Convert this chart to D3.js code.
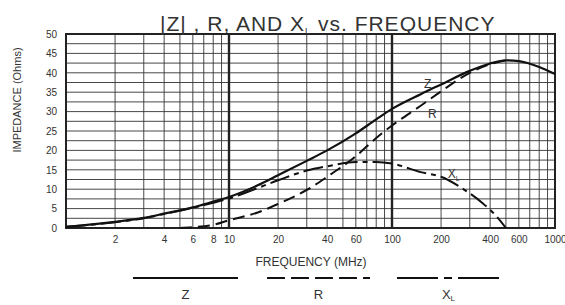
<!DOCTYPE html>
<html>
<head>
<meta charset="utf-8">
<script src="https://cdn.jsdelivr.net/npm/d3@7"></script>
<style>
  html, body { margin: 0; padding: 0; background: #fff; }
  svg { display: block; font-family: "Liberation Sans", Arial, sans-serif; }
  .grid line { stroke: #333; stroke-width: 0.9; }
</style>
</head>
<body>
<svg id="chart" width="565" height="305"></svg>
<script>
// ─── Data ───────────────────────────────────────────────────────────
const FREQ_Z   = [1, 1.5, 2, 3, 4, 6, 8, 10, 15, 20, 30, 40, 60, 80, 100, 150, 200, 300, 400, 500, 600, 800, 1000];
const Z_VALUES = [0.3, 1.0, 1.6, 2.6, 3.7, 5.3, 6.8, 8.0, 11.0, 13.6, 17.3, 20.0, 24.4, 28.0, 30.7, 34.5, 37.0, 40.5, 42.4, 43.2, 43.0, 41.5, 39.7];

const FREQ_R   = [5, 6, 8, 10, 15, 20, 30, 40, 60, 80, 100, 150, 200, 300, 400, 500];
const R_VALUES = [0, 0.2, 0.8, 2.0, 4.0, 6.2, 9.8, 13.2, 18.5, 23.2, 26.4, 31.5, 35.2, 40.0, 42.2, 43.2];

const FREQ_XL   = [1, 2, 3, 4, 6, 8, 10, 15, 20, 30, 40, 60, 80, 100, 150, 200, 270, 360, 440, 500];
const XL_VALUES = [0.3, 1.5, 2.5, 3.6, 5.2, 6.5, 7.6, 10.3, 12.3, 14.8, 15.9, 17.0, 17.0, 16.6, 14.4, 13.2, 10.2, 6.4, 2.9, 0];

const X_TICKS = [2, 4, 6, 8, 10, 20, 40, 60, 100, 200, 400, 600, 1000];
const Y_TICKS = [0, 5, 10, 15, 20, 25, 30, 35, 40, 45, 50];

// ─── Layout ─────────────────────────────────────────────────────────
const svg = d3.select('#chart');
const margin = { top: 34, left: 66, right: 10, bottom: 77 };
const W = 565, H = 305;
const iw = W - margin.left - margin.right;
const ih = H - margin.top - margin.bottom;
const g = svg.append('g').attr('transform', `translate(${margin.left},${margin.top})`);

const x = d3.scaleLog().domain([1, 1000]).range([0, iw]);
const y = d3.scaleLinear().domain([0, 50]).range([ih, 0]);

// ── Grid ────────────────────────────────────────────
const minor = [];
for (const dec of [1, 10, 100]) for (let k = 2; k <= 9; k++) minor.push(dec * k);
const grid = g.append('g').attr('class', 'grid');
grid.selectAll('line.v').data(minor).join('line')
  .attr('class', 'v')
  .attr('x1', d => x(d)).attr('x2', d => x(d))
  .attr('y1', 0).attr('y2', ih);
grid.selectAll('line.h').data(d3.range(2.5, 50, 2.5)).join('line')
  .attr('class', 'h')
  .attr('x1', 0).attr('x2', iw)
  .attr('y1', d => y(d)).attr('y2', d => y(d));
// bold decade lines
g.selectAll('line.decade').data([10, 100]).join('line')
  .attr('class', 'decade')
  .attr('x1', d => x(d)).attr('x2', d => x(d))
  .attr('y1', 0).attr('y2', ih)
  .attr('stroke', '#222').attr('stroke-width', 2.4);
g.append('rect').attr('width', iw).attr('height', ih)
  .attr('fill', 'none').attr('stroke', '#222').attr('stroke-width', 2);

// ── Axes ────────────────────────────────────────────
const xAxis = g.append('g').attr('transform', `translate(0,${ih})`)
  .call(d3.axisBottom(x).tickValues(X_TICKS).tickSize(0).tickPadding(8).tickFormat(d3.format('d')));
xAxis.select('.domain').remove();
xAxis.selectAll('text').style('font-size', '10px').attr('fill', '#333');

const yAxis = g.append('g')
  .call(d3.axisLeft(y).tickValues(Y_TICKS).tickSize(0).tickPadding(9));
yAxis.select('.domain').remove();
yAxis.selectAll('text').style('font-size', '10px').attr('fill', '#333');

// ── Curves ──────────────────────────────────────────
const line = d3.line().x(d => x(d[0])).y(d => y(d[1])).curve(d3.curveMonotoneX);
const zip = (a, b) => a.map((v, i) => [v, b[i]]);

g.append('path').datum(zip(FREQ_XL, XL_VALUES))
  .attr('d', line).attr('fill', 'none')
  .attr('stroke', '#111').attr('stroke-width', 2)
  .attr('stroke-dasharray', '20,5,5,5');
g.append('path').datum(zip(FREQ_R, R_VALUES))
  .attr('d', line).attr('fill', 'none')
  .attr('stroke', '#111').attr('stroke-width', 2)
  .attr('stroke-dasharray', '12,6');
g.append('path').datum(zip(FREQ_Z, Z_VALUES))
  .attr('d', line).attr('fill', 'none')
  .attr('stroke', '#111').attr('stroke-width', 2.2);

// curve labels
const lbl = (fx, vy, txt, sub) => {
  const t = g.append('text').attr('x', x(fx)).attr('y', y(vy))
    .attr('font-size', 12).attr('fill', '#333').text(txt);
  if (sub) t.append('tspan').attr('font-size', 7).attr('dy', 3).text(sub);
};
lbl(157, 36.2, 'Z');
lbl(166, 28.3, 'R');
lbl(220, 13.0, 'X', 'L');

// ── Title and axis titles ───────────────────────────
const title = svg.append('text').attr('x', 160).attr('y', 31)
  .attr('font-size', 21).attr('letter-spacing', 1).attr('fill', '#333');
title.append('tspan').text('|Z| , R, AND X');
title.append('tspan').attr('font-size', 9).attr('dy', 3).text('L');
title.append('tspan').attr('dy', -3).text('  vs. FREQUENCY');

svg.append('text')
  .attr('transform', 'translate(21,100) rotate(-90)')
  .attr('text-anchor', 'middle').attr('font-size', 11).attr('fill', '#333')
  .text('IMPEDANCE  (Ohms)');

svg.append('text').attr('x', 311).attr('y', 266)
  .attr('text-anchor', 'middle').attr('font-size', 12).attr('fill', '#333')
  .text('FREQUENCY (MHz)');

// ── Legend ──────────────────────────────────────────
const LEGEND = [
  { x0: 133, x1: 238, dash: null, label: 'Z', sub: null },
  { x0: 267, x1: 370, dash: '18,6', label: 'R', sub: null },
  { x0: 397, x1: 500, dash: '41,6,8,6', label: 'X', sub: 'L' }
];
const lg = svg.append('g');
for (const it of LEGEND) {
  lg.append('line').attr('x1', it.x0).attr('x2', it.x1).attr('y1', 278).attr('y2', 278)
    .attr('stroke', '#111').attr('stroke-width', 2)
    .attr('stroke-dasharray', it.dash);
  const t = lg.append('text').attr('x', (it.x0 + it.x1) / 2).attr('y', 299)
    .attr('text-anchor', 'middle').attr('font-size', 13).attr('fill', '#333').text(it.label);
  if (it.sub) t.append('tspan').attr('font-size', 8).attr('dy', 2).text(it.sub);
}
</script>
</body>
</html>
